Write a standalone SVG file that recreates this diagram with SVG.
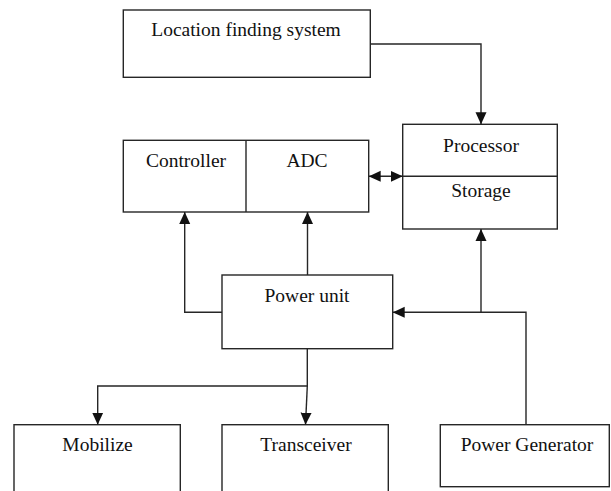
<svg xmlns="http://www.w3.org/2000/svg" width="611" height="491" viewBox="0 0 611 491">
<style>
.box{fill:#fff;stroke:#262626;stroke-width:1.4}
.div{stroke:#262626;stroke-width:1.4;fill:none}
.t{font-family:"Liberation Serif","Times New Roman",serif;font-size:19.5px;fill:#111;text-anchor:middle}
.c{fill:none;stroke:#262626;stroke-width:1.4}
</style>
<defs>
<marker id="ah" viewBox="0 0 12 12" refX="12" refY="6" markerWidth="12" markerHeight="12" markerUnits="userSpaceOnUse" orient="auto-start-reverse">
<path d="M0,0.5 L12,6 L0,11.5 Z" fill="#111"/>
</marker>
</defs>
<rect width="611" height="491" fill="#fff"/>
<g id="location">
<rect class="box" x="123.3" y="10" width="247" height="67.3"/>
<text class="t" x="246" y="36">Location finding system</text>
</g>
<g id="controller-adc">
<rect class="box" x="123.3" y="140.3" width="245.4" height="71.7"/>
<line class="div" x1="246" y1="140.3" x2="246" y2="212"/>
<text class="t" x="186" y="166.7">Controller</text>
<text class="t" x="307" y="166.7">ADC</text>
</g>
<g id="processor-storage">
<rect class="box" x="402.7" y="124.3" width="154.6" height="104.7"/>
<line class="div" x1="402.7" y1="176.3" x2="557.3" y2="176.3"/>
<text class="t" x="481" y="152">Processor</text>
<text class="t" x="481" y="197">Storage</text>
</g>
<g id="power-unit">
<rect class="box" x="222" y="275" width="170.7" height="73.7"/>
<text class="t" x="307" y="301.7">Power unit</text>
</g>
<g id="mobilize">
<rect class="box" x="14" y="424.7" width="166.3" height="80"/>
<text class="t" x="97.5" y="450.7">Mobilize</text>
</g>
<g id="transceiver">
<rect class="box" x="222" y="424.7" width="166.3" height="80"/>
<text class="t" x="306" y="450.7">Transceiver</text>
</g>
<g id="power-generator">
<rect class="box" x="440.3" y="424.7" width="169" height="62"/>
<text class="t" x="527" y="450.7">Power Generator</text>
</g>
<g id="connectors">
<path class="c" d="M370.3,44 H481 V124.3" marker-end="url(#ah)"/>
<path class="c" d="M368.7,176.3 H402.7" marker-start="url(#ah)" marker-end="url(#ah)"/>
<path class="c" d="M222,312.3 H184.7 V212" marker-end="url(#ah)"/>
<path class="c" d="M307.5,275 V212" stroke="#555" marker-end="url(#ah)"/>
<path class="c" d="M307.3,348.7 V386 H97.7 V424.7" marker-end="url(#ah)"/>
<path class="c" d="M307.3,386 L305.5,424.7" marker-end="url(#ah)"/>
<path class="c" d="M526,424.7 V312.3 H392.7" marker-end="url(#ah)"/>
<path class="c" d="M481,312.3 V229" marker-end="url(#ah)"/>
</g>
</svg>
